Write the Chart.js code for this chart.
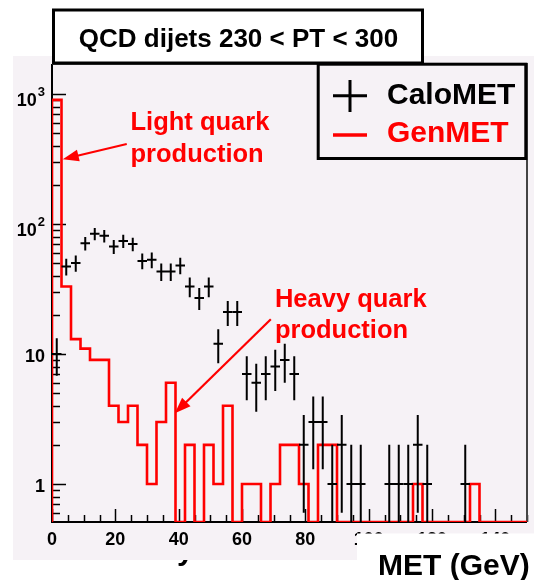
<!DOCTYPE html>
<html>
<head>
<meta charset="utf-8">
<script src="https://cdn.jsdelivr.net/npm/chart.js@4.4.1/dist/chart.umd.min.js"></script>
<style>
  html, body { margin: 0; padding: 0; background: #fff; }
  #wrap { width: 534px; height: 580px; position: relative; }
</style>
</head>
<body>
<div id="wrap"><canvas id="metChart"></canvas></div>
<script>
// MET for QCD dijets, 230 < pT < 300, 3 GeV bins from 0 to 150
const binEdges = [0, 3, 6, 9, 12, 15, 18, 21, 24, 27, 30, 33, 36, 39, 42, 45, 48, 51, 54, 57,
  60, 63, 66, 69, 72, 75, 78, 81, 84, 87, 90, 93, 96, 99, 102, 105, 108, 111, 114, 117,
  120, 123, 126, 129, 132, 135, 138, 141, 144, 147, 150];

const caloMET = [10, 47, 50, 71, 84, 81, 67, 74, 70, 52, 53, 43, 43, 48, 33, 27, 33, 12, 21, 21,
  7, 6, 7, 8, 9, 7, 2, 3, 3, 1, 2, 1, 1, 0, 0, 1, 1, 1, 2, 1,
  0, 0, 0, 1, 0, 0, 0, 0, 0, 0];
const caloErr = [3.2, 6.9, 7.1, 8.4, 9.2, 9.0, 8.2, 8.6, 8.4, 7.2, 7.3, 6.6, 6.6, 6.9, 5.7, 5.2, 5.7, 3.5, 4.6, 4.6,
  2.6, 2.4, 2.6, 2.8, 3.0, 2.6, 1.4, 1.7, 1.7, 1, 1.4, 1, 1, 0, 0, 1, 1, 1, 1.4, 1,
  0, 0, 0, 1, 0, 0, 0, 0, 0, 0];
const genMET = [900, 33, 13, 11, 9, 9, 4, 3, 4, 2, 1, 3, 6, 0, 2, 0, 2, 1, 4, 0,
  1, 1, 0, 1, 2, 2, 1, 0, 2, 2, 0, 0, 0, 0, 0, 0, 0, 0, 1, 0,
  0, 0, 0, 0, 1, 0, 0, 0, 0, 0];

const xTickValues = [0, 20, 40, 60, 80, 100, 120, 140];
const yTickValues = [1, 10, 100, 1000];
const yTickLabels = ['1', '10', '10^2', '10^3'];

const X_MIN = 0, X_MAX = 150;
const Y_MIN = 0.51, Y_MAX = 1700;

const FONT = '"Liberation Sans", Arial, Helvetica, sans-serif';
const PANEL = '#f6f2f6';
const RED = '#ff0000';

// empty bins sit on the bottom of the log axis
const onAxis = v => (v > 0 ? v : Y_MIN);

const genSteps = [{ x: binEdges[0], y: Y_MIN }];
genMET.forEach((v, i) => genSteps.push({ x: binEdges[i], y: onAxis(v) }));
genSteps.push({ x: binEdges[genMET.length], y: onAxis(genMET[genMET.length - 1]) });

const caloPoints = [];
caloMET.forEach((v, i) => {
  if (v <= 0) return;
  caloPoints.push({
    x: (binEdges[i] + binEdges[i + 1]) / 2,
    y: v,
    x0: binEdges[i],
    x1: binEdges[i + 1],
    lo: Math.max(v - caloErr[i], Y_MIN),
    hi: v + caloErr[i]
  });
});

// annotation arrows, in data coordinates (x in GeV, y in entries)
const notes = [
  { lines: ['Light quark', 'production'], x: 24.8, y: 528, tail: [23.6, 412], tip: [3.4, 315] },
  { lines: ['Heavy quark', 'production'], x: 70.4, y: 23.1, tail: [69.1, 18.5], tip: [38.8, 3.5] }
];

function arrow(ctx, x1, y1, x2, y2) {
  const a = Math.atan2(y2 - y1, x2 - x1);
  const len = 16, hw = 6;
  ctx.beginPath();
  ctx.moveTo(x1, y1);
  ctx.lineTo(x2 - Math.cos(a) * len * 0.8, y2 - Math.sin(a) * len * 0.8);
  ctx.stroke();
  ctx.beginPath();
  ctx.moveTo(x2, y2);
  ctx.lineTo(x2 - Math.cos(a) * len + Math.sin(a) * hw, y2 - Math.sin(a) * len - Math.cos(a) * hw);
  ctx.lineTo(x2 - Math.cos(a) * len - Math.sin(a) * hw, y2 - Math.sin(a) * len + Math.cos(a) * hw);
  ctx.closePath();
  ctx.fill();
}

const rootStyle = {
  id: 'rootStyle',
  beforeDraw(chart) {
    const ctx = chart.ctx;
    ctx.save();
    ctx.fillStyle = '#fff';
    ctx.fillRect(0, 0, chart.width, chart.height);
    ctx.fillStyle = PANEL;
    ctx.fillRect(13, 56, 521, 504);
    ctx.restore();
  },
  beforeDatasetsDraw(chart) {
    const ctx = chart.ctx;
    const { left, right, top, bottom } = chart.chartArea;
    const xs = chart.scales.x, ys = chart.scales.y;
    ctx.save();
    ctx.strokeStyle = '#000';
    ctx.lineWidth = 1.5;
    // x ticks, pointing into the frame
    for (let v = X_MIN; v <= X_MAX; v += 5) {
      const px = Math.round(xs.getPixelForValue(v)) + 0.5;
      const len = xTickValues.includes(v) ? 13 : 7;
      ctx.beginPath();
      ctx.moveTo(px, bottom);
      ctx.lineTo(px, bottom - len);
      ctx.stroke();
    }
    // y ticks, log decades with 2..9 minors
    for (let d = 0.1; d <= 1000; d *= 10) {
      for (let k = 1; k <= 9; k++) {
        const v = d * k;
        if (v < Y_MIN || v > Y_MAX) continue;
        const py = Math.round(ys.getPixelForValue(v)) + 0.5;
        const len = k === 1 ? 14 : 8;
        ctx.beginPath();
        ctx.moveTo(left, py);
        ctx.lineTo(left + len, py);
        ctx.stroke();
      }
    }
    // y labels: mantissa with a raised exponent
    ctx.fillStyle = '#000';
    ctx.textBaseline = 'alphabetic';
    yTickValues.forEach((v, i) => {
      const [base, exp] = yTickLabels[i].split('^');
      const py = ys.getPixelForValue(v);
      if (exp) {
        ctx.font = 'bold 13px ' + FONT;
        const ew = ctx.measureText(exp).width;
        ctx.textAlign = 'right';
        ctx.fillText(exp, left - 7, py + 2);
        ctx.font = 'bold 18px ' + FONT;
        ctx.fillText(base, left - 8 - ew, py + 12);
      } else {
        ctx.font = 'bold 18px ' + FONT;
        ctx.textAlign = 'right';
        ctx.fillText(base, left - 7, py + 8);
      }
    });
    // frame
    ctx.lineWidth = 2;
    ctx.beginPath();
    ctx.moveTo(left, top);
    ctx.lineTo(left, bottom);
    ctx.lineTo(right, bottom);
    ctx.stroke();
    ctx.strokeStyle = '#444';
    ctx.beginPath();
    ctx.moveTo(right, bottom);
    ctx.lineTo(right, top);
    ctx.lineTo(left, top);
    ctx.stroke();
    ctx.restore();
  },
  afterDatasetsDraw(chart) {
    const ctx = chart.ctx;
    const xs = chart.scales.x, ys = chart.scales.y;
    const { left, right, top, bottom } = chart.chartArea;
    const pts = chart.data.datasets[1].data;
    ctx.save();
    ctx.beginPath();
    ctx.rect(left, top, right - left, bottom - top + 2);
    ctx.clip();
    ctx.strokeStyle = '#000';
    ctx.lineWidth = 2;
    pts.forEach(p => {
      const cx = xs.getPixelForValue(p.x), cy = ys.getPixelForValue(p.y);
      ctx.beginPath();
      ctx.moveTo(xs.getPixelForValue(p.x0), cy);
      ctx.lineTo(xs.getPixelForValue(p.x1), cy);
      ctx.moveTo(cx, ys.getPixelForValue(p.hi));
      ctx.lineTo(cx, ys.getPixelForValue(p.lo));
      ctx.stroke();
    });
    ctx.restore();
  },
  afterDraw(chart) {
    const ctx = chart.ctx;
    const xs = chart.scales.x, ys = chart.scales.y;
    ctx.save();

    // annotations
    ctx.fillStyle = RED;
    ctx.strokeStyle = RED;
    ctx.lineWidth = 2.2;
    ctx.font = 'bold 25.5px ' + FONT;
    ctx.textBaseline = 'alphabetic';
    notes.forEach(n => {
      const tx = xs.getPixelForValue(n.x), ty = ys.getPixelForValue(n.y);
      n.lines.forEach((s, i) => ctx.fillText(s, tx, ty + i * 31.5));
      arrow(ctx, xs.getPixelForValue(n.tail[0]), ys.getPixelForValue(n.tail[1]),
        xs.getPixelForValue(n.tip[0]), ys.getPixelForValue(n.tip[1]));
    });

    // title box
    ctx.fillStyle = '#fff';
    ctx.fillRect(53.5, 10, 369, 53);
    ctx.strokeStyle = '#000';
    ctx.lineWidth = 3;
    ctx.strokeRect(53.5, 10, 369, 53);
    ctx.fillStyle = '#000';
    ctx.font = 'bold 26px ' + FONT;
    ctx.textAlign = 'center';
    ctx.fillText('QCD dijets 230 < PT < 300', 238.5, 46.5);

    // legend box
    ctx.textAlign = 'left';
    ctx.fillStyle = PANEL;
    ctx.fillRect(318.2, 64.2, 207.6, 94.3);
    ctx.strokeRect(318.2, 64.2, 207.6, 94.3);
    const ds = chart.data.datasets;
    ctx.strokeStyle = ds[1].borderColor;
    ctx.beginPath();
    ctx.moveTo(333, 95.7); ctx.lineTo(367, 95.7);
    ctx.moveTo(350, 80); ctx.lineTo(350, 112);
    ctx.stroke();
    ctx.strokeStyle = ds[0].borderColor;
    ctx.lineWidth = 3.3;
    ctx.beginPath();
    ctx.moveTo(333, 135); ctx.lineTo(367, 135);
    ctx.stroke();
    ctx.font = 'bold 30px ' + FONT;
    ctx.fillStyle = ds[1].borderColor;
    ctx.fillText(ds[1].label, 387, 103.5);
    ctx.fillStyle = ds[0].borderColor;
    ctx.fillText(ds[0].label, 387, 142);

    // axis title strip
    ctx.fillStyle = '#fff';
    ctx.fillRect(357, 533.5, 177, 47);
    ctx.fillStyle = '#000';
    ctx.fillText('MET (GeV)', 378, 575);
    ctx.beginPath();
    ctx.rect(0, 560, 357, 20);
    ctx.clip();
    ctx.fillText('y', 177, 560);
    ctx.restore();
  }
};

new Chart(document.getElementById('metChart'), {
  type: 'line',
  data: {
    datasets: [
      {
        label: 'GenMET',
        data: genSteps,
        borderColor: RED,
        borderWidth: 2.6,
        stepped: 'before',
        pointRadius: 0,
        fill: false
      },
      {
        label: 'CaloMET',
        data: caloPoints,
        borderColor: '#000',
        showLine: false,
        pointRadius: 0
      }
    ]
  },
  options: {
    responsive: true,
    maintainAspectRatio: false,
    animation: false,
    layout: { padding: { top: 64, right: 7, left: 0, bottom: 0 } },
    plugins: {
      legend: { display: false },
      tooltip: { enabled: false }
    },
    scales: {
      x: {
        type: 'linear',
        min: X_MIN,
        max: X_MAX,
        grid: { display: false, drawTicks: false },
        border: { display: false },
        afterBuildTicks: s => { s.ticks = xTickValues.map(v => ({ value: v })); },
        afterFit: s => { s.height = 58; },
        ticks: {
          autoSkip: false,
          maxRotation: 0,
          padding: 7,
          color: '#000',
          font: { family: FONT, size: 18, weight: 'bold' },
          callback: v => String(v)
        }
      },
      y: {
        type: 'logarithmic',
        min: Y_MIN,
        max: Y_MAX,
        grid: { display: false, drawTicks: false },
        border: { display: false },
        afterBuildTicks: s => { s.ticks = yTickValues.map(v => ({ value: v })); },
        afterFit: s => { s.width = 52; },
        ticks: { display: false }
      }
    }
  },
  plugins: [rootStyle]
});
</script>
</body>
</html>
